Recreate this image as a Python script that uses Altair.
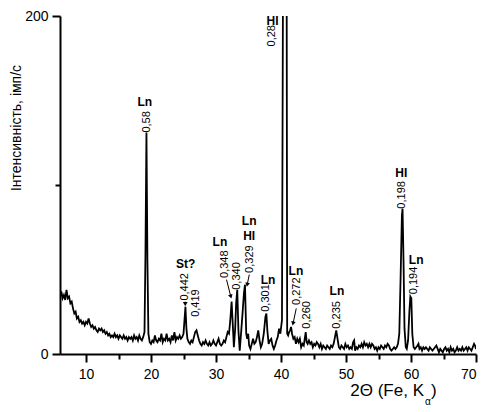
import altair as alt
import pandas as pd

# ---- diffraction profile (2-theta, counts) ----
two_theta = [
    6.0, 6.2, 6.4, 6.6, 6.8, 7.0, 7.2, 7.4, 7.6, 7.8,
    8.0, 8.2, 8.4, 8.6, 8.8, 9.0, 9.2, 9.4, 9.6, 9.8,
    10.0, 10.2, 10.4, 10.6, 10.8, 11.0, 11.2, 11.4, 11.6, 11.8,
    12.0, 12.2, 12.4, 12.6, 12.8, 13.0, 13.2, 13.4, 13.6, 13.8,
    14.0, 14.2, 14.4, 14.6, 14.8, 15.0, 15.2, 15.4, 15.6, 15.8,
    16.0, 16.2, 16.4, 16.6, 16.8, 17.0, 17.2, 17.4, 17.6, 17.8,
    18.0, 18.2, 18.4, 18.6, 18.8, 19.0, 19.15, 19.3, 19.45, 19.6,
    19.8, 20.0, 20.2, 20.4, 20.6, 20.8, 21.0, 21.2, 21.4, 21.6,
    21.8, 22.0, 22.2, 22.4, 22.6, 22.8, 23.0, 23.2, 23.4, 23.6,
    23.8, 24.0, 24.2, 24.4, 24.6, 24.8, 25.0, 25.15, 25.3, 25.45,
    25.6, 25.8, 26.0, 26.2, 26.4, 26.6, 26.8, 27.0, 27.2, 27.4,
    27.6, 27.8, 28.0, 28.2, 28.4, 28.6, 28.8, 29.0, 29.2, 29.4,
    29.6, 29.8, 30.0, 30.2, 30.4, 30.6, 30.8, 31.0, 31.2, 31.4,
    31.6, 31.8, 32.0, 32.2, 32.4, 32.55, 32.75, 32.95, 33.1, 33.27,
    33.45, 33.65, 33.85, 34.1, 34.3, 34.46, 34.65, 34.8, 34.95, 35.1,
    35.3, 35.5, 35.7, 35.9, 36.1, 36.3, 36.5, 36.7, 36.9, 37.1,
    37.35, 37.6, 37.75, 37.9, 38.1, 38.3, 38.5, 38.7, 38.9, 39.1,
    39.3, 39.5, 39.7, 39.9, 40.15, 40.45, 40.8, 40.95, 41.1, 41.25,
    41.4, 41.55, 41.7, 41.9, 42.1, 42.3, 42.5, 42.7, 42.9, 43.1,
    43.3, 43.5, 43.65, 43.8, 43.95, 44.1, 44.3, 44.5, 44.7, 44.9,
    45.1, 45.3, 45.5, 45.7, 45.9, 46.1, 46.3, 46.5, 46.7, 46.9,
    47.1, 47.3, 47.5, 47.7, 47.9, 48.1, 48.3, 48.5, 48.7, 48.9,
    49.1, 49.3, 49.5, 49.7, 49.9, 50.1, 50.3, 50.5, 50.7, 50.9,
    51.1, 51.25, 51.4, 51.6, 51.8, 52.0, 52.2, 52.4, 52.6, 52.8,
    53.0, 53.2, 53.4, 53.6, 53.8, 54.0, 54.2, 54.4, 54.6, 54.8,
    55.0, 55.2, 55.4, 55.6, 55.8, 56.0, 56.2, 56.4, 56.6, 56.8,
    57.0, 57.2, 57.4, 57.6, 57.8, 58.0, 58.2, 58.4, 58.6, 58.7,
    58.85, 59.0, 59.2, 59.35, 59.55, 59.75, 59.9, 60.05, 60.2, 60.4,
    60.6, 60.8, 61.0, 61.15, 61.3, 61.5, 61.7, 61.9, 62.1, 62.3,
    62.5, 62.7, 62.9, 63.1, 63.3, 63.5, 63.7, 63.9, 64.1, 64.3,
    64.5, 64.7, 64.9, 65.1, 65.3, 65.5, 65.7, 65.9, 66.1, 66.3,
    66.5, 66.7, 66.9, 67.1, 67.3, 67.5, 67.7, 67.9, 68.1, 68.3,
    68.5, 68.7, 68.9, 69.1, 69.3, 69.5, 69.7, 69.85, 70.0,
]
intensity = [
    34, 37, 33, 35, 32, 38, 33, 34, 30, 31,
    27, 24, 25, 21, 22, 19, 20, 18, 19, 17,
    19, 18, 21, 18, 16, 17, 15, 16, 14, 13,
    15, 14, 15, 13, 14, 12, 13, 11, 12, 10,
    11, 10, 12, 10, 11, 9, 11, 10, 9, 11,
    9, 10, 8, 10, 9, 10, 8, 11, 9, 10,
    8, 11, 9, 8, 10, 13, 60, 131, 55, 12,
    7, 6, 8, 7, 11, 8, 7, 9, 8, 12,
    7, 9, 8, 12, 8, 9, 7, 11, 8, 13,
    8, 10, 9, 11, 9, 10, 12, 20, 28, 15,
    9, 7, 6, 8, 7, 10, 13, 14, 11, 8,
    6, 5, 7, 6, 8, 6, 5, 7, 5, 6,
    8, 6, 5, 7, 9, 6, 5, 6, 8, 7,
    10, 13, 12, 20, 31, 20, 4, 15, 30, 38,
    14, 2, 12, 25, 36, 41, 12, 9, 12, 5,
    3, 6, 9, 6, 7, 10, 14, 8, 4, 6,
    12, 22, 24, 14, 6, 8, 9, 5, 3, 5,
    8, 10, 15, 12, 20, 400, 400, 12, 11, 13,
    14, 16, 12, 9, 10, 6, 9, 7, 9, 4,
    6, 5, 9, 13, 7, 6, 8, 6, 7, 4,
    6, 5, 7, 6, 4, 6, 3, 5, 4, 3,
    5, 4, 3, 5, 4, 6, 10, 14, 9, 4,
    3, 5, 4, 3, 6, 4, 5, 3, 4, 3,
    7, 8, 2, 4, 3, 5, 4, 6, 4, 7,
    5, 6, 4, 6, 4, 6, 5, 3, 4, 2,
    4, 3, 5, 4, 3, 5, 4, 6, 5, 3,
    2, 3, 4, 3, 4, 6, 12, 45, 82, 86,
    55, 15, 4, 3, 8, 25, 34, 33, 12, 4,
    3, 4, 5, 6, 3, 4, 2, 4, 3, 4,
    3, 2, 4, 3, 2, 3, 4, 5, 3, 1,
    3, 2, 1, 3, 4, 2, 3, 1, 4, 2,
    3, 1, 2, 4, 2, 3, 2, 4, 2, 3,
    4, 2, 4, 3, 2, 4, 6, 5, 3,
]
assert len(two_theta) == len(intensity)

# ---- d-spacing labels (rotated) ----
d_text = ["0,58", "0,442", "0,419", "0,348", "0,340", "0,329", "0,301",
          "0,28", "0,272", "0,260", "0,235", "0,198", "0,194"]
d_x = [19.33, 25.25, 26.97, 31.44, 33.28, 35.18, 37.75,
       38.57, 42.41, 43.95, 48.68, 58.56, 60.46]
d_y = [131, 31.6, 22, 45, 38, 48, 25, 182, 29, 15, 15, 86, 35.4]

# ---- phase labels ----
phase_text = ["Ln", "St?", "Ln", "Ln", "HI", "Ln", "HI", "Ln", "Ln", "HI", "Ln"]
phase_x = [19.05, 25.35, 30.6, 35.1, 35.1, 38.0, 38.7, 42.3, 48.6, 58.5, 60.8]
phase_y = [149, 53, 66, 78.5, 70, 43.6, 197, 49, 37, 107, 55.7]

# ---- arrows from labels to peaks ----
arrow_x = [25.26, 31.62, 35.12, 42.35]
arrow_y = [31, 44, 47, 27]
arrow_x2 = [25.27, 32.28, 34.8, 41.85]
arrow_y2 = [29.5, 34, 41, 18]
arrow_angle = [0, 344, 11, 12]

FONT = "Liberation Sans"

profile = pd.DataFrame({"tt": two_theta, "I": intensity})
dlab = pd.DataFrame({"tt": d_x, "I": d_y, "t": d_text})
plab = pd.DataFrame({"tt": phase_x, "I": phase_y, "t": phase_text})
arr = pd.DataFrame({"tt": arrow_x, "I": arrow_y, "tt2": arrow_x2, "I2": arrow_y2,
                    "a": arrow_angle})

xs = alt.Scale(domain=[6, 70], nice=False, zero=False)
ys = alt.Scale(domain=[0, 200], nice=False)
xax = alt.Axis(values=list(range(10, 71, 5)),
               labelExpr="datum.value % 10 == 0 ? datum.label : ''", title=None,
               tickSize={"condition": {"test": "datum.value % 10 == 0", "value": 8}, "value": 5},
               labelPadding=5)
yax = alt.Axis(values=[0, 100, 200],
               labelExpr="datum.value == 100 ? '' : datum.label", title=None,
               tickSize={"condition": {"test": "datum.value == 100", "value": 5}, "value": 8},
               labelPadding=4)


def X(f):
    return alt.X(f, scale=xs, axis=xax)


def Y(f):
    return alt.Y(f, scale=ys, axis=yax)


line = alt.Chart(profile).mark_line(color="black", strokeWidth=1.8, clip=True).encode(
    x=X("tt:Q"), y=Y("I:Q"),
)

rules = alt.Chart(arr).mark_rule(color="black", strokeWidth=1).encode(
    x=X("tt:Q"), y=Y("I:Q"), x2="tt2:Q", y2="I2:Q",
)
heads = alt.Chart(arr).mark_point(shape="triangle-down", filled=True, color="black",
                                  size=22, opacity=1).encode(
    x=X("tt2:Q"), y=Y("I2:Q"), angle=alt.Angle("a:Q", scale=None),
)

dtexts = alt.Chart(dlab).mark_text(angle=270, align="left", baseline="middle",
                                   font=FONT, fontSize=11, color="black").encode(
    x=X("tt:Q"), y=Y("I:Q"), text="t:N",
)
ptexts = alt.Chart(plab).mark_text(align="center", baseline="middle", font=FONT,
                                   fontSize=12, fontWeight="bold", color="black").encode(
    x=X("tt:Q"), y=Y("I:Q"), text="t:N",
)

ytitle = alt.Chart(pd.DataFrame({"t": ["Інтенсивність, імп/с"]})).mark_text(
    angle=270, align="center", baseline="middle", font=FONT, fontSize=14, color="black"
).encode(x=alt.value(-43), y=alt.value(112), text="t:N")

xt_main = alt.Chart(pd.DataFrame({"t": ["2Θ (Fe, K"]})).mark_text(
    align="right", baseline="alphabetic", font=FONT, fontSize=17, color="black"
).encode(x=alt.value(364), y=alt.value(380), text="t:N")
xt_sub = alt.Chart(pd.DataFrame({"t": ["α"]})).mark_text(
    align="left", baseline="alphabetic", font=FONT, fontSize=10, color="black"
).encode(x=alt.value(365), y=alt.value(389), text="t:N")
xt_close = alt.Chart(pd.DataFrame({"t": [")"]})).mark_text(
    align="left", baseline="alphabetic", font=FONT, fontSize=17, color="black"
).encode(x=alt.value(371), y=alt.value(380), text="t:N")

chart = alt.layer(line, rules, heads, dtexts, ptexts, ytitle, xt_main, xt_sub, xt_close).properties(
    width=416, height=338,
    autosize=alt.AutoSizeParams(type="none"),
    padding={"left": 52, "top": 8, "right": 8, "bottom": 56},
).configure_view(stroke=None).configure_axis(
    grid=False, domainColor="black", domainWidth=2, tickColor="black", tickWidth=2,
    labelFont=FONT, labelFontSize=14, labelColor="black",
)

chart.save("out.html", embed_options={"renderer": "svg", "actions": False})
